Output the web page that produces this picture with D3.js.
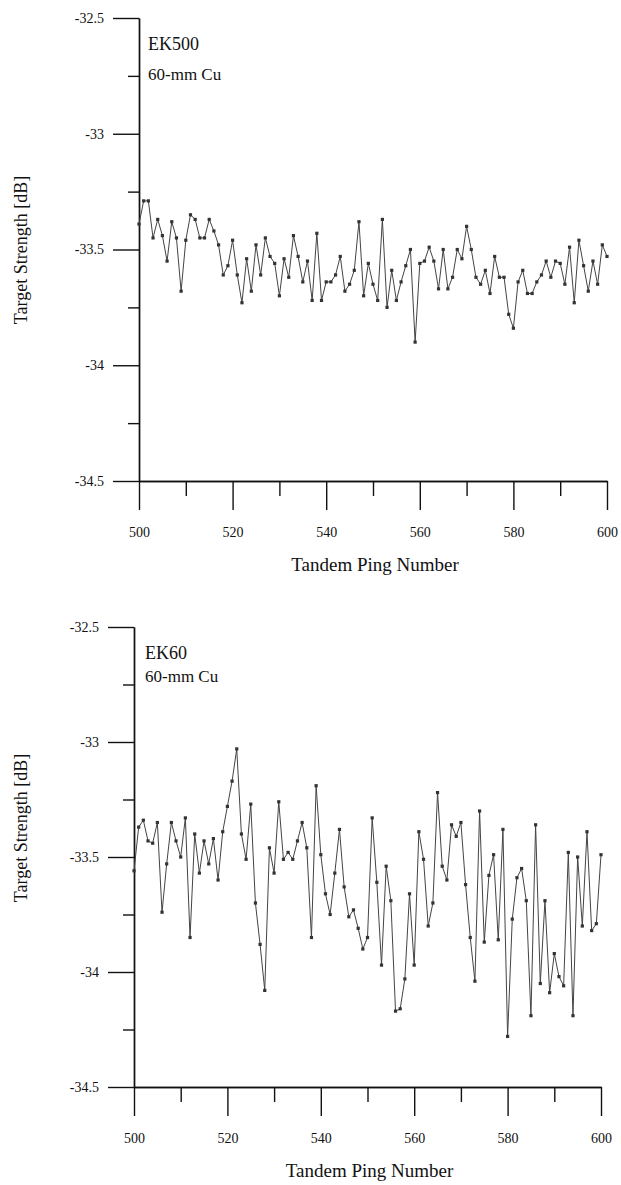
<!DOCTYPE html>
<html>
<head>
<meta charset="utf-8">
<script src="https://cdn.jsdelivr.net/npm/d3@7/dist/d3.min.js"></script>
<style>
  html, body { margin: 0; padding: 0; background: #fff; }
  svg { display: block; }
  svg text { font-family: "Liberation Serif", "Tinos", "Times New Roman", "DejaVu Serif", "Noto Serif", serif; fill: #111; }
</style>
</head>
<body>
<svg id="chart" width="621" height="1185"></svg>
<script>
// ---------- data ----------
const firstPing = 500;
const lastPing = 600;
const xMajorTicks = [500, 520, 540, 560, 580, 600];
const xMinorTicks = [510, 530, 550, 570, 590];
const yMajorTicks = [-34.5, -34, -33.5, -33, -32.5];
const yMinorTicks = [-34.25, -33.75, -33.25, -32.75];
const xTitle = "Tandem Ping Number";
const yTitle = "Target Strength [dB]";

// EK500, 60-mm Cu, pings 500..600
const ek500 = [
  -33.39, -33.29, -33.29, -33.45, -33.37, -33.44, -33.55, -33.38, -33.45, -33.68,
  -33.46, -33.35, -33.37, -33.45, -33.45, -33.37, -33.42, -33.48, -33.61, -33.57,
  -33.46, -33.61, -33.73, -33.54, -33.68, -33.48, -33.61, -33.45, -33.53, -33.56,
  -33.70, -33.54, -33.62, -33.44, -33.53, -33.64, -33.55, -33.72, -33.43, -33.72,
  -33.64, -33.64, -33.61, -33.53, -33.68, -33.65, -33.59, -33.38, -33.70, -33.56,
  -33.65, -33.72, -33.37, -33.75, -33.59, -33.72, -33.64, -33.57, -33.50, -33.90,
  -33.56, -33.55, -33.49, -33.55, -33.67, -33.50, -33.67, -33.62, -33.50, -33.54,
  -33.40, -33.50, -33.62, -33.65, -33.59, -33.69, -33.53, -33.62, -33.62, -33.78,
  -33.84, -33.64, -33.59, -33.69, -33.69, -33.64, -33.61, -33.55, -33.62, -33.55,
  -33.56, -33.65, -33.49, -33.73, -33.46, -33.57, -33.68, -33.55, -33.65, -33.48,
  -33.53
];

// EK60, 60-mm Cu, pings 500..600
const ek60 = [
  -33.56, -33.37, -33.34, -33.43, -33.44, -33.35, -33.74, -33.53, -33.35, -33.43,
  -33.50, -33.33, -33.85, -33.40, -33.57, -33.43, -33.53, -33.42, -33.60, -33.39,
  -33.28, -33.17, -33.03, -33.40, -33.51, -33.27, -33.70, -33.88, -34.08, -33.46,
  -33.57, -33.26, -33.51, -33.48, -33.51, -33.43, -33.35, -33.46, -33.85, -33.19,
  -33.49, -33.66, -33.75, -33.57, -33.38, -33.63, -33.76, -33.73, -33.81, -33.90,
  -33.85, -33.33, -33.61, -33.97, -33.54, -33.69, -34.17, -34.16, -34.03, -33.66,
  -33.97, -33.39, -33.51, -33.80, -33.70, -33.22, -33.54, -33.60, -33.36, -33.41,
  -33.35, -33.62, -33.85, -34.04, -33.30, -33.87, -33.58, -33.49, -33.86, -33.38,
  -34.28, -33.77, -33.59, -33.55, -33.69, -34.19, -33.36, -34.05, -33.69, -34.09,
  -33.92, -34.02, -34.06, -33.48, -34.19, -33.50, -33.80, -33.39, -33.82, -33.79,
  -33.49
];

const panels = [
  { name: "EK500", sub: "60-mm Cu", values: ek500,
    xr: [139, 607], yr: [481, 18], label: { x: 148, y1: 50, y2: 80 }, yTitleY: 250 },
  { name: "EK60", sub: "60-mm Cu", values: ek60,
    xr: [134, 601], yr: [1087, 627], label: { x: 145, y1: 659, y2: 682 }, yTitleY: 828 }
];

// ---------- drawing ----------
const FONT = '"Liberation Serif", "Tinos", "Times New Roman", "DejaVu Serif", "Noto Serif", serif';
const svg = d3.select("#chart");
svg.append("rect").attr("width", 621).attr("height", 1185).attr("fill", "#fff");

panels.forEach(p => {
  const x = d3.scaleLinear().domain([firstPing, lastPing]).range(p.xr);
  const y = d3.scaleLinear().domain([yMajorTicks[0], yMajorTicks[yMajorTicks.length - 1]]).range(p.yr);
  const g = svg.append("g");

  // x axis: minor then major ticks
  const xAxisY = y(yMajorTicks[0]);
  g.append("g").attr("transform", `translate(0,${xAxisY})`)
    .call(d3.axisBottom(x).tickValues(xMinorTicks).tickSize(15).tickSizeOuter(0).tickFormat(""));
  g.append("g").attr("transform", `translate(0,${xAxisY})`)
    .call(d3.axisBottom(x).tickValues(xMajorTicks).tickSize(29).tickSizeOuter(0).tickPadding(17)
      .tickFormat(d => String(d)));

  // y axis
  const yAxisX = x(firstPing);
  g.append("g").attr("transform", `translate(${yAxisX},0)`)
    .call(d3.axisLeft(y).tickValues(yMinorTicks).tickSize(11).tickSizeOuter(0).tickFormat(""));
  g.append("g").attr("transform", `translate(${yAxisX},0)`)
    .call(d3.axisLeft(y).tickValues(yMajorTicks).tickSize(26).tickSizeOuter(0).tickPadding(9)
      .tickFormat(d => String(d)));

  g.selectAll("g").attr("font-family", FONT);
  g.selectAll(".domain, .tick line").attr("stroke", "#111").attr("stroke-width", 1.4);
  g.selectAll(".tick text").attr("font-size", 14).attr("fill", "#222");

  // series line and markers
  const pts = p.values.map((v, i) => [firstPing + i, v]);
  const line = d3.line().x(d => x(d[0])).y(d => y(d[1]));
  g.append("path").datum(pts).attr("d", line)
    .attr("fill", "none").attr("stroke", "#444").attr("stroke-width", 1);
  g.selectAll("rect.pt").data(pts).join("rect").attr("class", "pt")
    .attr("x", d => x(d[0]) - 1.6).attr("y", d => y(d[1]) - 1.6)
    .attr("width", 3.2).attr("height", 3.2).attr("fill", "#333");

  // panel labels
  g.append("text").attr("x", p.label.x).attr("y", p.label.y1).attr("font-size", 18).text(p.name);
  g.append("text").attr("x", p.label.x).attr("y", p.label.y2).attr("font-size", 17).text(p.sub);

  // axis titles
  g.append("text").attr("x", (p.xr[0] + p.xr[1]) / 2 + 2).attr("y", xAxisY + 90)
    .attr("text-anchor", "middle").attr("font-size", 19).text(xTitle);
  g.append("text").attr("transform", `translate(27,${p.yTitleY}) rotate(-90)`)
    .attr("text-anchor", "middle").attr("font-size", 18).text(yTitle);
});
</script>
</body>
</html>
